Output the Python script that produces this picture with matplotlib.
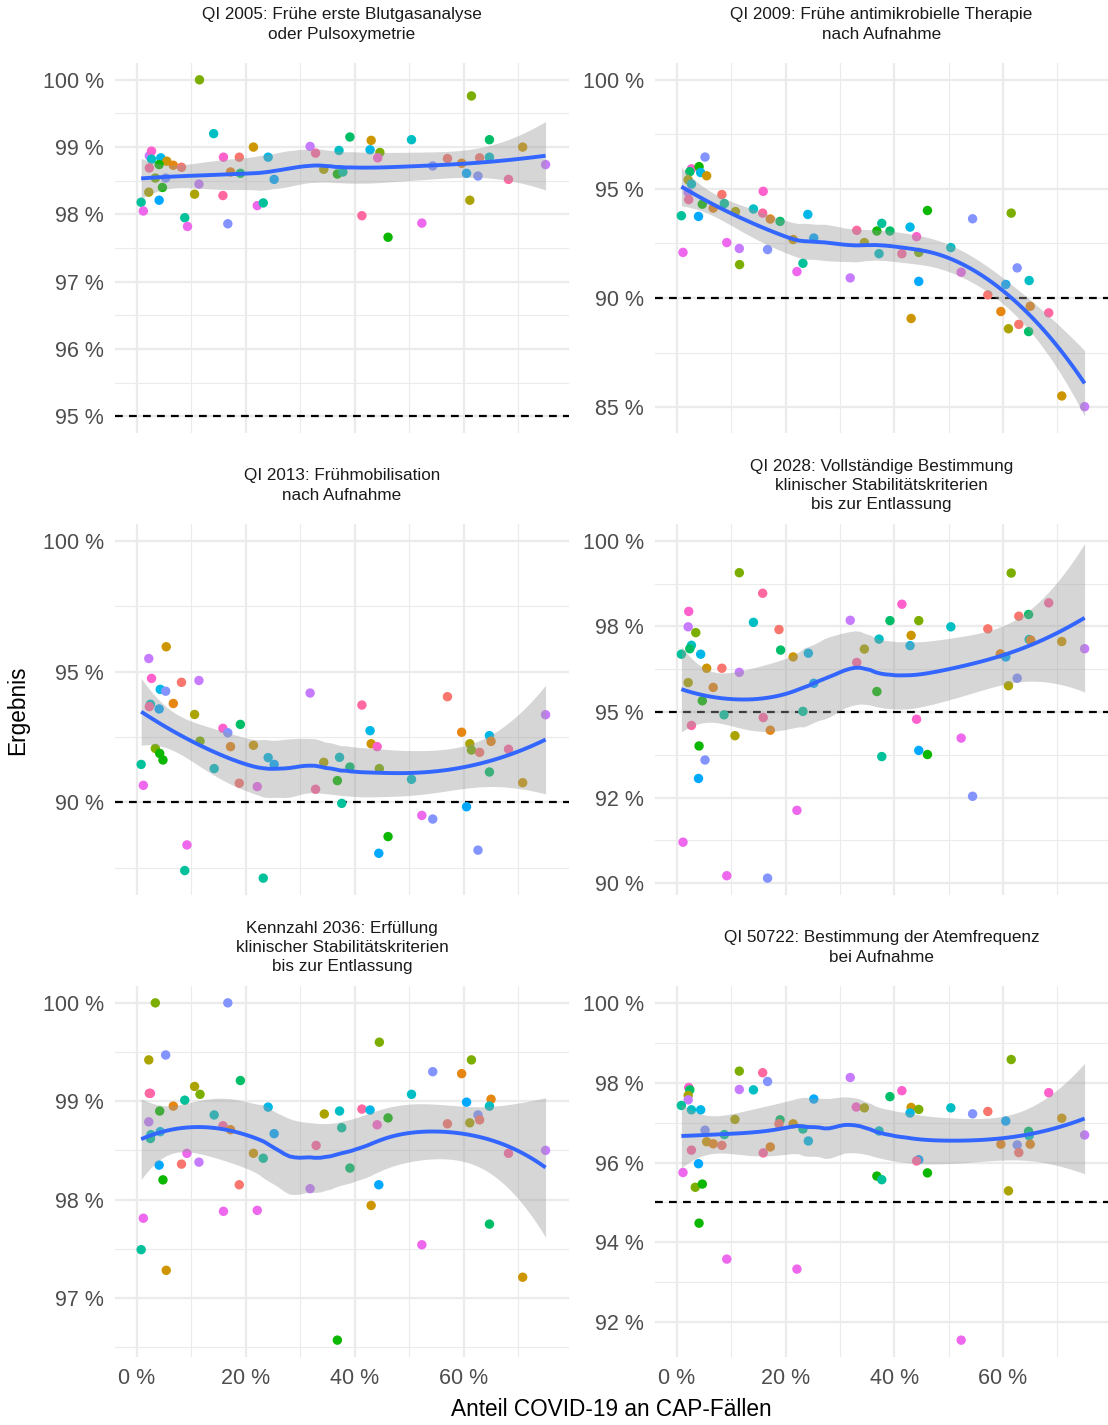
import numpy as np
import matplotlib
matplotlib.use("Agg")
import matplotlib.pyplot as plt

plt.rcParams['font.family'] = ['Liberation Sans', 'DejaVu Sans']

# ---------------- data ----------------
HUE = ['#F8766D', '#E68613', '#CD9600', '#ABA300', '#7CAE00', '#0CB702', '#00BE67', '#00C19A',
       '#00BFC4', '#00B8E7', '#00A9FF', '#8494FF', '#C77CFF', '#ED68ED', '#FF61CC', '#FF68A1']

titles = [
    "QI 2005: Frühe erste Blutgasanalyse\noder Pulsoxymetrie",
    "QI 2009: Frühe antimikrobielle Therapie\nnach Aufnahme",
    "QI 2013: Frühmobilisation\nnach Aufnahme",
    "QI 2028: Vollständige Bestimmung\nklinischer Stabilitätskriterien\nbis zur Entlassung",
    "Kennzahl 2036: Erfüllung\nklinischer Stabilitätskriterien\nbis zur Entlassung",
    "QI 50722: Bestimmung der Atemfrequenz\nbei Aufnahme",
]
ref_lines = [95, 90, 90, 95, None, 95]
y_ticks = [
    [95, 96, 97, 98, 99, 100],
    [85, 90, 95, 100],
    [90, 95, 100],
    [90, 92.5, 95, 97.5, 100],
    [97, 98, 99, 100],
    [92, 94, 96, 98, 100],
]
x_ticks = [0, 20, 40, 60]

p1_x = [11.5, 14.1, 2.3, 2.7, 2.7, 4.4, 5.5, 4.1, 6.7, 8.2, 2.3, 3.4, 5.3, 4.7, 2.2, 4.1, 0.8, 1.2, 8.8, 9.3,
        10.6, 11.4, 15.9, 15.8, 16.7, 17.2, 18.8, 19.0, 21.4, 24.1, 25.2, 22.1, 23.2, 31.8, 32.8, 37.1, 34.3,
        36.8, 37.8, 39.1, 43.0, 42.8, 44.6, 44.2, 41.3, 46.1, 50.4, 52.3, 54.3, 57.0, 59.6, 60.5, 61.4, 61.1,
        62.6, 62.9, 64.7, 64.7, 68.2, 70.8, 75.0]
p1_y = [100.0, 99.20, 98.87, 98.94, 98.82, 98.84, 98.79, 98.74, 98.73, 98.70, 98.69, 98.54, 98.54, 98.40,
        98.33, 98.21, 98.18, 98.05, 97.95, 97.82, 98.30, 98.45, 98.85, 98.28, 97.86, 98.63, 98.85, 98.61,
        99.00, 98.85, 98.52, 98.13, 98.17, 99.01, 98.91, 98.95, 98.67, 98.60, 98.63, 99.15, 99.10, 98.96,
        98.92, 98.84, 97.98, 97.66, 99.11, 97.87, 98.72, 98.83, 98.76, 98.61, 99.76, 98.21, 98.57, 98.84,
        99.11, 98.85, 98.52, 99.00, 98.74]
p1_c = [4, 8, 12, 14, 8, 9, 2, 5, 1, 0, 15, 4, 11, 5, 3, 10, 7, 13, 7, 13, 3, 12, 14, 15, 11, 1, 0, 6, 2, 9,
        10, 13, 7, 12, 15, 8, 3, 5, 7, 6, 2, 9, 4, 14, 15, 5, 8, 13, 11, 0, 1, 10, 4, 3, 11, 0, 6, 8, 15, 2, 12]

p2_x = [5.2, 2.7, 4.1, 2.4, 4.4, 5.5, 2.1, 2.7, 2.1, 2.2, 4.7, 0.85, 4.0, 1.15, 8.3, 8.75, 6.7, 10.8, 9.2,
        11.5, 11.55, 15.9, 14.1, 15.8, 17.2, 19.0, 16.7, 21.4, 24.1, 25.2, 22.1, 23.2, 31.9, 33.1, 34.5, 36.8,
        37.7, 37.2, 39.2, 42.9, 44.1, 41.4, 44.5, 44.5, 43.1, 46.1, 50.4, 52.3, 54.4, 57.2, 59.6, 60.5, 61.5,
        61.0, 62.6, 62.9, 64.8, 65.0, 64.7, 68.4, 70.8, 75.0]
p2_y = [96.46, 95.92, 96.02, 95.79, 95.75, 95.60, 95.42, 95.22, 94.84, 94.51, 94.30, 93.77, 93.74, 92.09,
        94.74, 94.33, 94.12, 93.96, 92.54, 92.27, 91.53, 94.89, 94.08, 93.89, 93.62, 93.51, 92.22, 92.68,
        93.83, 92.75, 91.21, 91.59, 90.92, 93.10, 92.54, 93.07, 93.42, 92.03, 93.07, 93.25, 92.81, 92.03,
        92.09, 90.76, 89.06, 94.01, 92.31, 91.18, 93.63, 90.14, 89.38, 90.62, 93.89, 88.59, 91.38, 88.79,
        90.80, 89.62, 88.46, 89.32, 85.51, 85.02]
p2_c = [11, 14, 5, 6, 9, 2, 3, 8, 12, 15, 5, 7, 10, 13, 0, 7, 1, 3, 13, 12, 4, 14, 8, 15, 1, 6, 11, 2, 9, 10,
        13, 7, 12, 15, 3, 5, 7, 8, 6, 9, 14, 15, 4, 10, 2, 5, 8, 13, 11, 0, 1, 10, 4, 3, 11, 0, 8, 1, 6, 15,
        2, 12]

p3_x = [5.4, 2.2, 2.7, 4.3, 5.3, 8.2, 11.4, 6.7, 2.5, 2.3, 4.1, 10.6, 11.6, 3.4, 4.2, 4.8, 0.8, 1.2, 14.2,
        15.8, 16.7, 17.2, 19.0, 18.8, 21.4, 22.1, 24.1, 25.2, 9.2, 8.8, 23.2, 31.8, 32.8, 34.3, 36.8, 37.2,
        37.6, 39.1, 41.3, 42.8, 43.0, 44.1, 44.5, 46.1, 44.4, 50.4, 52.3, 54.3, 57.0, 59.6, 60.5, 61.1, 61.4,
        62.9, 62.6, 64.7, 65.0, 64.7, 68.2, 70.8, 75.0]
p3_y = [95.95, 95.50, 94.74, 94.32, 94.25, 94.59, 94.66, 93.78, 93.75, 93.66, 93.57, 93.36, 92.34, 92.06,
        91.87, 91.62, 91.45, 90.65, 91.29, 92.83, 92.66, 92.13, 92.98, 90.73, 92.18, 90.60, 91.71, 91.45,
        88.37, 87.39, 87.10, 94.18, 90.50, 91.53, 90.83, 91.72, 89.96, 91.35, 93.72, 92.74, 92.24, 92.13,
        91.29, 88.69, 88.05, 90.88, 89.50, 89.36, 94.04, 92.68, 89.83, 92.24, 92.00, 91.91, 88.17, 92.55,
        92.33, 91.16, 92.03, 90.75, 93.35]
p3_c = [2, 12, 14, 9, 11, 0, 12, 1, 8, 15, 10, 3, 4, 4, 5, 5, 7, 13, 8, 14, 11, 1, 6, 0, 2, 13, 9, 10, 13, 7,
        7, 12, 15, 3, 5, 8, 7, 6, 15, 9, 2, 14, 4, 5, 10, 8, 13, 11, 0, 1, 10, 3, 4, 0, 11, 9, 1, 6, 15, 2, 12]

p4_x = [11.5, 15.8, 2.2, 14.1, 18.8, 2.1, 3.5, 2.7, 2.4, 0.85, 4.4, 19.1, 21.4, 24.2, 5.5, 8.3, 11.5, 2.1,
        6.7, 4.7, 8.7, 2.7, 15.9, 17.2, 10.7, 23.2, 25.2, 4.1, 5.2, 4.0, 22.1, 1.15, 9.2, 16.7, 31.9, 34.5,
        33.1, 37.2, 36.8, 37.7, 39.2, 41.4, 44.5, 43.1, 42.9, 44.1, 44.5, 46.1, 50.4, 52.3, 54.4, 57.2, 59.5,
        60.5, 61.5, 61.0, 62.6, 62.9, 64.7, 64.8, 65.1, 68.4, 70.8, 75.0]
p4_y = [99.07, 98.47, 97.94, 97.62, 97.41, 97.49, 97.32, 96.95, 96.85, 96.69, 96.69, 96.81, 96.61, 96.72,
        96.28, 96.28, 96.16, 95.86, 95.72, 95.33, 94.92, 94.61, 94.84, 94.47, 94.31, 95.02, 95.84, 94.01,
        93.60, 93.06, 92.13, 91.20, 90.22, 90.15, 97.68, 96.84, 96.45, 97.13, 95.60, 93.70, 97.67, 98.15,
        97.67, 97.24, 96.94, 94.79, 93.88, 93.76, 97.49, 94.24, 92.54, 97.43, 96.70, 96.61, 99.06, 95.77,
        95.99, 97.80, 97.85, 97.12, 97.10, 98.19, 97.06, 96.85]
p4_c = [4, 15, 14, 8, 0, 12, 4, 8, 6, 7, 9, 6, 2, 9, 2, 0, 12, 3, 1, 5, 7, 15, 15, 1, 3, 7, 10, 5, 11, 10,
        13, 13, 13, 11, 12, 3, 15, 8, 5, 7, 6, 14, 4, 2, 9, 14, 10, 5, 8, 13, 11, 0, 1, 10, 4, 3, 11, 0, 6, 8,
        1, 15, 2, 12]

p5_x = [3.4, 16.7, 5.3, 2.2, 10.6, 11.6, 19.0, 2.5, 2.3, 4.2, 6.7, 8.8, 2.2, 2.6, 2.5, 4.3, 14.2, 15.8, 17.2,
        24.1, 25.2, 9.2, 8.2, 11.4, 4.1, 4.8, 21.4, 23.2, 18.8, 1.2, 15.9, 22.1, 0.8, 5.4, 34.4, 37.2, 37.6,
        32.9, 31.8, 36.8, 39.1, 41.3, 42.8, 44.5, 46.1, 44.1, 44.4, 43.0, 50.4, 52.3, 54.3, 57.0, 59.6, 60.5,
        61.4, 61.1, 62.6, 62.9, 65.0, 64.7, 64.7, 68.2, 70.8, 75.0]
p5_y = [100.0, 100.0, 99.47, 99.42, 99.15, 99.07, 99.21, 99.08, 99.08, 98.90, 98.95, 99.01, 98.79, 98.66,
        98.62, 98.69, 98.86, 98.75, 98.71, 98.94, 98.67, 98.47, 98.36, 98.38, 98.35, 98.20, 98.47, 98.42,
        98.15, 97.81, 97.88, 97.89, 97.49, 97.28, 98.87, 98.90, 98.73, 98.55, 98.11, 96.57, 98.32, 98.92,
        98.91, 99.60, 98.83, 98.76, 98.15, 97.94, 99.07, 97.54, 99.30, 98.77, 99.28, 98.99, 99.42, 98.78,
        98.86, 98.81, 99.02, 98.95, 97.75, 98.47, 97.21, 98.50]
p5_c = [4, 11, 11, 3, 3, 4, 6, 14, 15, 5, 1, 7, 12, 8, 7, 9, 8, 15, 1, 9, 10, 13, 0, 12, 10, 5, 2, 7, 0, 13,
        13, 13, 7, 2, 3, 8, 7, 15, 12, 5, 6, 15, 9, 4, 5, 14, 10, 2, 8, 13, 11, 0, 1, 10, 4, 3, 11, 0, 1, 8,
        6, 15, 2, 12]

p6_x = [11.5, 15.8, 16.7, 11.5, 14.1, 2.2, 2.4, 2.1, 2.1, 0.85, 2.7, 4.4, 10.7, 19.0, 18.8, 21.4, 25.2,
        23.2, 24.2, 5.2, 8.75, 5.5, 6.7, 8.3, 2.7, 15.9, 17.2, 4.0, 1.15, 3.4, 4.7, 4.1, 9.2, 22.1, 31.9,
        33.0, 34.5, 37.2, 36.8, 37.7, 39.2, 41.4, 43.1, 44.5, 42.9, 44.5, 44.1, 46.1, 50.4, 52.3, 54.4, 57.2,
        59.6, 60.5, 61.5, 61.0, 62.6, 62.9, 64.7, 64.8, 65.0, 68.4, 70.8, 75.0]
p6_y = [98.29, 98.25, 98.03, 97.83, 97.82, 97.88, 97.82, 97.68, 97.57, 97.43, 97.32, 97.32, 97.08, 97.07,
        96.97, 96.97, 97.59, 96.84, 96.54, 96.81, 96.70, 96.52, 96.47, 96.43, 96.31, 96.24, 96.39, 95.97,
        95.75, 95.38, 95.46, 94.48, 93.58, 93.33, 98.13, 97.39, 97.37, 96.79, 95.66, 95.57, 97.65, 97.80,
        97.38, 97.33, 97.24, 96.07, 96.04, 95.74, 97.37, 91.55, 97.22, 97.28, 96.46, 97.04, 98.58, 95.29,
        96.44, 96.25, 96.78, 96.67, 96.46, 97.75, 97.11, 96.69]
p6_c = [4, 15, 11, 12, 8, 14, 6, 3, 12, 7, 8, 9, 3, 6, 0, 2, 10, 7, 9, 11, 7, 2, 1, 0, 15, 15, 1, 10, 13, 4,
        5, 5, 13, 13, 12, 14, 3, 8, 5, 7, 6, 14, 2, 4, 9, 10, 15, 5, 8, 13, 11, 0, 1, 10, 4, 3, 11, 0, 6, 8,
        1, 14, 2, 12]

panels = [(p1_x, p1_y, p1_c), (p2_x, p2_y, p2_c), (p3_x, p3_y, p3_c),
          (p4_x, p4_y, p4_c), (p5_x, p5_y, p5_c), (p6_x, p6_y, p6_c)]


# ---------------- loess (span 0.75, degree 2) with 95% CI ----------------
def loess_ci(x, y, xs, span=0.75):
    x = np.asarray(x, float)
    y = np.asarray(y, float)
    n = len(x)
    q = int(np.floor(n * span))

    def row(x0):
        d = np.abs(x - x0)
        h = np.sort(d)[q - 1]
        w = np.clip(1 - (d / h) ** 3, 0, None) ** 3
        X = np.vstack([np.ones(n), x - x0, (x - x0) ** 2]).T
        XtW = X.T * w
        return np.linalg.solve(XtW @ X, XtW)[0]

    L = np.array([row(v) for v in x])
    res = y - L @ y
    IL = np.eye(n) - L
    M = IL.T @ IL
    d1 = np.trace(M)
    d2 = np.trace(M @ M)
    sigma = np.sqrt(np.sum(res ** 2) / d1)
    df = d1 ** 2 / d2
    z = 1.959964
    t = z + (z ** 3 + z) / (4 * df) + (5 * z ** 5 + 16 * z ** 3 + 3 * z) / (96 * df ** 2)
    Ls = np.array([row(v) for v in xs])
    fit = Ls @ y
    se = sigma * np.sqrt(np.sum(Ls ** 2, axis=1))
    return fit, fit - t * se, fit + t * se


def pct_label(v):
    return f"{round(v)} %"


# ---------------- figure ----------------
W, H = 1108, 1425
fig = plt.figure(figsize=(W / 100, H / 100), dpi=100)

cols = [(115, 569), (655, 1108)]
rows = [(63, 433), (524, 895), (986, 1357)]

for i, (px, py, pc) in enumerate(panels):
    r, c = divmod(i, 2)
    x0, x1 = cols[c]
    y0, y1 = rows[r]
    ax = fig.add_axes([x0 / W, 1 - y1 / H, (x1 - x0) / W, (y1 - y0) / H])
    xa = np.asarray(px, float)
    ya = np.asarray(py, float)
    xs = np.linspace(xa.min(), xa.max(), 80)
    fit, lo, hi = loess_ci(xa, ya, xs)

    ref = ref_lines[i]
    vals = [ya.min(), ya.max(), lo.min(), hi.max(), 100.0]
    if ref is not None:
        vals.append(ref)
    ymin, ymax = min(vals), max(vals)
    pad = 0.05 * (ymax - ymin)
    ax.set_ylim(ymin - pad, ymax + pad)
    ax.set_xlim(-4.0, 79.3)

    # grid
    yt = y_ticks[i]
    step = yt[1] - yt[0]
    minors = [v + step / 2 for v in yt[:-1]] + [yt[0] - step / 2, yt[-1] + step / 2]
    for v in minors:
        ax.axhline(v, color='#EBEBEB', lw=0.8, zorder=0)
    for v in yt:
        ax.axhline(v, color='#EBEBEB', lw=1.6, zorder=0)
    for v in [10, 30, 50, 70]:
        ax.axvline(v, color='#EBEBEB', lw=0.8, zorder=0)
    for v in x_ticks:
        ax.axvline(v, color='#EBEBEB', lw=1.6, zorder=0)

    if ref is not None:
        ax.axhline(ref, color='black', lw=1.6, ls=(0, (3.5, 2.8)), zorder=1)

    ax.scatter(xa, ya, s=46, c=[HUE[k] for k in pc], linewidths=0, zorder=2)
    ax.fill_between(xs, lo, hi, color='#999999', alpha=0.4, linewidth=0, zorder=3)
    ax.plot(xs, fit, color='#3366FF', lw=2.8, zorder=4, solid_capstyle='butt')

    for s in ax.spines.values():
        s.set_visible(False)
    ax.set_yticks(yt)
    ax.set_yticklabels([pct_label(v) for v in yt])
    ax.set_xticks(x_ticks)
    if r == 2:
        ax.set_xticklabels([pct_label(v) for v in x_ticks])
    else:
        ax.set_xticklabels([])
    ax.tick_params(length=0, labelsize=15.5, labelcolor='#4D4D4D', pad=8)
    ax.tick_params(axis='y', pad=8)

    # strip title, block centred in the strip above the panel
    lines = titles[i].split('\n')
    xc = (x0 + x1) / 2
    yblock = y0 - 38.5
    n = len(lines)
    for j, line in enumerate(lines):
        yc = yblock + (j - (n - 1) / 2) * 19.5
        fig.text(xc / W, 1 - yc / H, line, ha='center', va='center', fontsize=12.3, color='#1A1A1A')

fig.text(611.5 / W, 1 - 1409 / H, "Anteil COVID-19 an CAP-Fällen", ha='center', va='center',
         fontsize=16.3, color='black')
fig.text(18 / W, 1 - 710 / H, "Ergebnis", ha='center', va='center', rotation=90,
         fontsize=16.3, color='black')

fig.savefig("out.png", dpi=100, facecolor='white')
